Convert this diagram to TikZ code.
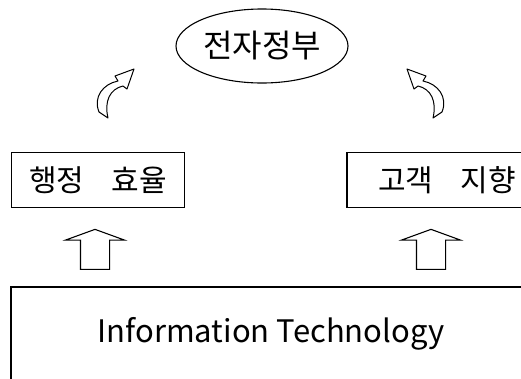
\documentclass[tikz,border=0pt]{standalone}
\usepackage{fontspec}
\setmainfont{Noto Sans CJK KR}
\usetikzlibrary{shapes.geometric,shapes.arrows,positioning}

\begin{document}
\begin{tikzpicture}[x=1pt,y=-1pt,line width=1.1pt,
  goal/.style={ellipse,draw,minimum width=172pt,minimum height=74pt,inner sep=0pt,font=\fontsize{32}{36}\selectfont},
  aim/.style={rectangle,draw,minimum height=55pt,inner sep=0pt,font=\fontsize{30}{34}\selectfont},
  base/.style={rectangle,draw,minimum width=520pt,minimum height=100pt,inner sep=0pt,text height=23pt,text depth=13pt,font=\fontsize{31}{36}\selectfont},
  lift/.style={single arrow,draw,rotate=90,minimum height=40pt,minimum width=58pt,inner xsep=0pt,inner ysep=14pt,single arrow head extend=15pt,single arrow tip angle=140},
  ribbon/.style={draw,line width=1pt,line join=round}]
\useasboundingbox (0,0) rectangle (521,378);
\clip (0,0) rectangle (521,378);

\node[goal,name=egov] at (262,46) {전자정부};

\node[aim,minimum width=173pt,name=admin] at (98,180) {행정\hspace{0.9em}효율};
\node[aim,minimum width=200pt,name=client] at (447,180) {고객\hspace{0.9em}지향\hspace{8pt}};

\node[base,name=it] at (271,337) {Information Technology\hspace{10pt}};

\node[lift,name=upl] at (95,252) {};
\node[lift,name=upr] at (431,252) {};

% curved arrows towards the ellipse
\draw[ribbon] (99,112) .. controls (93,97) and (103,84) .. (118,81) -- (115,76) -- (134,69) -- (127,89) -- (123,86) .. controls (110,89) and (104,101) .. (108,118) -- cycle;
\begin{scope}[shift={(541,0)},xscale=-1]
\draw[ribbon] (99,112) .. controls (93,97) and (103,84) .. (118,81) -- (115,76) -- (134,69) -- (127,89) -- (123,86) .. controls (110,89) and (104,101) .. (108,118) -- cycle;
\end{scope}
\end{tikzpicture}
\end{document}
